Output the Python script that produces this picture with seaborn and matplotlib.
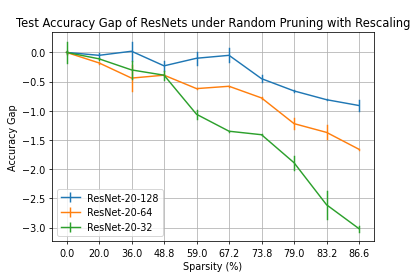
import numpy as np
import pandas as pd
import matplotlib
matplotlib.use("Agg")
import matplotlib.pyplot as plt
from matplotlib.lines import Line2D
import seaborn as sns

sparsity = ["0.0", "20.0", "36.0", "48.8", "59.0", "67.2", "73.8", "79.0", "83.2", "86.6"]
series = ["ResNet-20-128", "ResNet-20-64", "ResNet-20-32"]
gap_128 = [0.0, -0.05, 0.02, -0.23, -0.10, -0.05, -0.45, -0.66, -0.81, -0.91]
err_128 = [0.02, 0.04, 0.16, 0.09, 0.11, 0.12, 0.06, 0.01, 0.01, 0.09]
gap_64 = [0.0, -0.18, -0.44, -0.39, -0.62, -0.58, -0.78, -1.22, -1.37, -1.66]
err_64 = [0.02, 0.01, 0.22, 0.02, 0.01, 0.01, 0.01, 0.09, 0.12, 0.01]
gap_32 = [0.0, -0.11, -0.30, -0.39, -1.06, -1.35, -1.41, -1.89, -2.61, -3.02]
err_32 = [0.18, 0.02, 0.15, 0.08, 0.08, 0.01, 0.01, 0.12, 0.24, 0.05]
colors = ["#1f77b4", "#ff7f0e", "#2ca02c"]

rows = []
for name, g, e in zip(series, [gap_128, gap_64, gap_32], [err_128, err_64, err_32]):
    for i, (v, d) in enumerate(zip(g, e)):
        rows.append({"pos": i, "gap": v - d, "model": name})
        rows.append({"pos": i, "gap": v + d, "model": name})
df = pd.DataFrame(rows)

fig, ax = plt.subplots(figsize=(6, 4), dpi=69.2)
fig.subplots_adjust(left=0.125, right=0.9, bottom=0.126, top=0.88)
sns.lineplot(data=df, x="pos", y="gap", hue="model", hue_order=series,
             palette=colors, errorbar=("pi", 100), err_style="bars",
             err_kws={"capsize": 0, "elinewidth": 1.5}, linewidth=1.5,
             legend=False, ax=ax)
ax.grid(True, color="#b0b0b0", linewidth=0.8)
ax.set_axisbelow(True)
ax.set_xticks(range(len(sparsity)))
ax.set_xticklabels(sparsity)
ax.set_yticks([0.0, -0.5, -1.0, -1.5, -2.0, -2.5, -3.0])
ax.set_xlabel("Sparsity (%)")
ax.set_ylabel("Accuracy Gap")
ax.set_title("Test Accuracy Gap of ResNets under Random Pruning with Rescaling")
handles = [Line2D([0], [0], color=c, lw=1.5, marker="|", markersize=10, mew=1.5) for c in colors]
ax.legend(handles, series, loc="lower left")
fig.savefig("out.png", dpi=69.2)
